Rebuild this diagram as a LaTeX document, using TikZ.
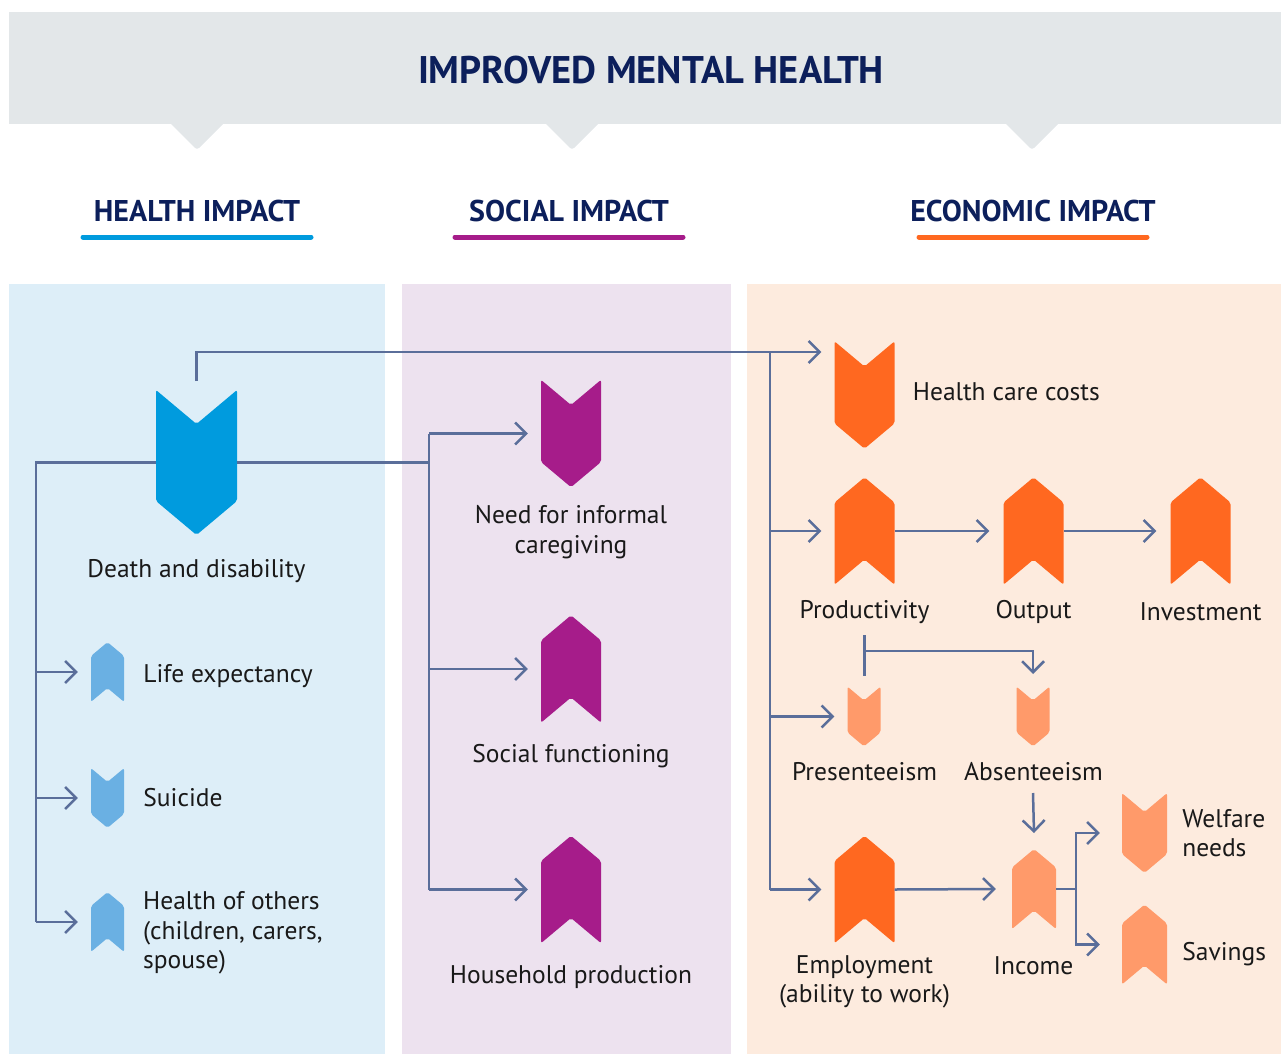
\documentclass[tikz,border=0pt]{standalone}
\usepackage{fontspec}
\setmainfont{PT Sans}
\usetikzlibrary{shapes.symbols, arrows.meta, positioning}

\definecolor{navy}{HTML}{0C1F5B}
\definecolor{banner}{HTML}{E3E7E9}
\definecolor{healthbg}{HTML}{DDEEF8}
\definecolor{socialbg}{HTML}{EDE2EF}
\definecolor{econbg}{HTML}{FDEBDE}
\definecolor{hblue}{HTML}{009BDE}
\definecolor{lblue}{HTML}{6AB0E3}
\definecolor{spurple}{HTML}{A61C8A}
\definecolor{eorange}{HTML}{FF6820}
\definecolor{lorange}{HTML}{FF9A6A}
\definecolor{linec}{HTML}{5A6E9A}

\begin{document}
\begin{tikzpicture}[x=1pt, y=-1pt]
\tikzstyle{chevdown} = [signal, signal to=south, signal from=north, signal pointer angle=100, inner sep=0pt, rounded corners=2pt]
\tikzstyle{chevup} = [signal, signal to=north, signal from=south, signal pointer angle=100, inner sep=0pt, rounded corners=2pt]
% minimum height is the straight body, the two points come on top of it
\tikzstyle{huge} = [minimum width=81pt, minimum height=77pt]
\tikzstyle{big} = [minimum width=60pt, minimum height=57pt]
\tikzstyle{small} = [minimum width=33pt, minimum height=32pt]
\tikzstyle{mid} = [minimum width=45pt, minimum height=42pt]
\tikzstyle{lbl} = [font=\fontsize{25.5}{29.5}\selectfont, align=center, inner sep=0pt, text=black!90]
\tikzstyle{head} = [font=\fontsize{30}{36}\bfseries, text=navy]
\tikzstyle{conn} = [line width=2.5pt, draw=linec]
\tikzstyle{arr} = [conn, -{Straight Barb[length=11pt, width=22pt]}]

\useasboundingbox (0,0) rectangle (1281,1054);

% banner and headings
\fill[banner] (9,12) rectangle (1281,124);
\foreach \px in {197, 572, 1032}
  \fill[banner, rounded corners=3pt] (\px-28,122) -- (\px,150) -- (\px+28,122) -- cycle;
\node[font=\fontsize{38.5}{44}\bfseries, text=navy] (title) at (651,70) {IMPROVED MENTAL HEALTH};

\node[head] (hhead) at (197,211) {HEALTH IMPACT};
\node[head] (shead) at (569,211) {SOCIAL IMPACT};
\node[head] (ehead) at (1033,211) {ECONOMIC IMPACT};
\draw[line width=5pt, line cap=round, hblue] (83,237) -- (311,237);
\draw[line width=5pt, line cap=round, spurple] (455,237) -- (683,237);
\draw[line width=5pt, line cap=round, eorange] (919,237) -- (1147,237);

% panels
\fill[healthbg] (9,284) rectangle (385,1054);
\fill[socialbg] (402,284) rectangle (731,1054);
\fill[econbg] (747,284) rectangle (1281,1054);

% health
\node (dd) [chevdown, huge, fill=hblue] at (196.5,462.5) {};
\node (life) [chevup, small, fill=lblue] at (107.5,672) {};
\node (suic) [chevdown, small, fill=lblue] at (107.5,798) {};
\node (others) [chevup, small, fill=lblue] at (107.5,922) {};

\node (ddl) [lbl] at (196.5,571) {Death and disability};
\node (lifel) [lbl, right=19pt of life, yshift=-4pt] {Life expectancy};
\node (suicl) [lbl, right=19pt of suic] {Suicide};
\node (othl) [lbl, align=left, anchor=west] at (143,933) {Health of others\\(children, carers,\\spouse)};

% social
\node (need) [chevdown, big, fill=spurple] at (571,433.5) {};
\node (socf) [chevup, big, fill=spurple] at (571,669) {};
\node (house) [chevup, big, fill=spurple] at (571,889.5) {};

\node (needl) [lbl] at (571,532) {Need for informal\\caregiving};
\node (socfl) [lbl] at (571,756) {Social functioning};
\node (housel) [lbl] at (571,977) {Household production};

% economic
\node (hcc) [chevdown, big, fill=eorange] at (864.5,395) {};
\node (prod) [chevup, big, fill=eorange] at (864.5,531) {};
\node (outp) [chevup, big, fill=eorange] at (1033.5,531) {};
\node (inv) [chevup, big, fill=eorange] at (1200.5,531) {};
\node (pres) [chevdown, small, fill=lorange] at (864,716.5) {};
\node (abs) [chevdown, small, fill=lorange] at (1033,716.5) {};
\node (empl) [chevup, big, fill=eorange] at (864.5,889.5) {};
\node (inc) [chevup, minimum width=44pt, minimum height=43pt, fill=lorange] at (1034,889) {};
\node (welf) [chevdown, mid, fill=lorange] at (1144.5,833) {};
\node (sav) [chevup, mid, fill=lorange] at (1144.5,944.5) {};

\node (hccl) [lbl, right=18pt of hcc, yshift=3pt] {Health care costs};
\node (prodl) [lbl] at (864.5,612) {Productivity};
\node (outpl) [lbl] at (1033.5,612) {Output};
\node (invl) [lbl] at (1200.5,612) {Investment};
\node (presl) [lbl] at (864.5,772) {Presenteeism};
\node (absl) [lbl] at (1033.5,772) {Absenteeism};
\node (empll) [lbl] at (864.5,982) {Employment\\(ability to work)};
\node (incl) [lbl] at (1033.5,966) {Income};
\node (welfl) [lbl, align=left, right=15pt of welf] {Welfare\\needs};
\node (savl) [lbl, right=15pt of sav, yshift=-10pt] {Savings};

% connectors
\coordinate (hj) at (36,462.5);
\coordinate (sj) at (429,462.5);
\coordinate (ej) at (770,352);

\draw[conn] (dd.west) -- (hj) -- (hj |- others);
\draw[arr] (hj |- life) -- ([xshift=-13pt]life.west);
\draw[arr] (hj |- suic) -- ([xshift=-13pt]suic.west);
\draw[arr] (hj |- others) -- ([xshift=-13pt]others.west);

\draw[conn] (dd.east) -- (sj);
\draw[conn] (sj |- need) -- (sj |- house);
\draw[arr] (sj |- need) -- ([xshift=-13pt]need.west);
\draw[arr] (sj |- socf) -- ([xshift=-13pt]socf.west);
\draw[arr] (sj |- house) -- ([xshift=-13pt]house.west);

\draw[arr] ([yshift=81.5pt]dd.center) |- ([xshift=-13pt, yshift=43pt]hcc.west);
\draw[conn] (ej) -- (ej |- empl);
\draw[arr] (ej |- prod) -- ([xshift=-13pt]prod.west);
\draw[arr] (ej |- pres) -- ([xshift=-13pt]pres.west);
\draw[arr] (ej |- empl) -- ([xshift=-13pt]empl.west);

\draw[arr] (prod.east) -- ([xshift=-14pt]outp.west);
\draw[arr] (outp.east) -- ([xshift=-14pt]inv.west);

\coordinate (pa) at (864.5,635);
\coordinate (pb) at (864.5,676);
\coordinate (pm) at (864.5,651);
\draw[conn] (pa) -- (pb);
\draw[arr] (pm) -| ([yshift=42.5pt]abs.center);
\draw[arr] ([yshift=-76.5pt]abs.center) -- ([yshift=56pt]inc.center);

\draw[arr] (empl.east) -- ([xshift=-16pt]inc.west);
\coordinate (ij) at (1076,889);
\draw[conn] (inc.east) -- (ij);
\draw[arr] (ij) |- ([xshift=-22pt]welf.west);
\draw[arr] (ij) |- ([xshift=-22pt]sav.west);
\end{tikzpicture}
\end{document}
